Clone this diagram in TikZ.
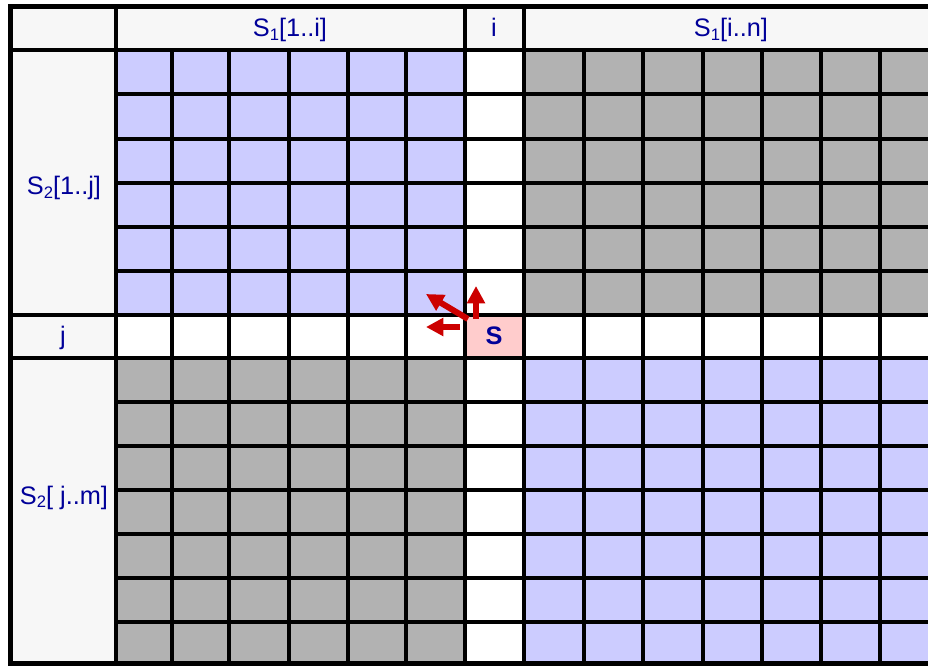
\documentclass[tikz,border=0pt]{standalone}
\usepackage{fontspec}
\setmainfont{Liberation Sans}
\usetikzlibrary{arrows.meta}
\definecolor{lblue}{RGB}{204,204,255}
\definecolor{dgrey}{RGB}{178,178,178}
\definecolor{spink}{RGB}{255,204,204}
\definecolor{txtblue}{RGB}{0,0,153}
\definecolor{hdrbg}{RGB}{247,247,247}
\definecolor{arrred}{RGB}{204,0,0}
\newcommand\lowidx[1]{\raisebox{-0.15em}{\fontsize{12.5}{13}\selectfont #1}}
\begin{document}
\begin{tikzpicture}[x=0.75pt,y=-0.75pt,
  lbl/.style={text=txtblue,font=\fontsize{19}{21}\selectfont,inner sep=0pt,anchor=base},
  gridline/.style={line width=2.4pt,draw=black},
  border/.style={line width=4.2pt,draw=black},
  redarrow/.style={draw=arrred,line width=4.5pt,-{Triangle[length=13pt,width=13pt]}}]
\useasboundingbox (0,0) rectangle (928,666);
\clip (0,0) rectangle (928,666);
% backgrounds
\fill[white] (0,0) rectangle (928,666);
\fill[hdrbg] (11,7) rectangle (940,664);
\fill[lblue] (116,50) rectangle (465,315);
\fill[dgrey] (524,50) rectangle (940,315);
\fill[dgrey] (116,358) rectangle (465,666);
\fill[lblue] (524,358) rectangle (940,666);
\fill[white] (465,50) rectangle (524,666);
\fill[white] (116,315) rectangle (940,358);
\fill[spink] (465,315) rectangle (524,358);
% vertical grid lines in body
\foreach \x in {172,229,289,348,406,584,643,703,762,821,880,939}
  \draw[gridline] (\x,50) -- (\x,666);
\foreach \x in {116,465,524}
  \draw[gridline] (\x,7) -- (\x,666);
% horizontal grid lines
\foreach \y in {94,139,183,227,271,402,446,490,534,578,622}
  \draw[gridline] (116,\y) -- (940,\y);
\foreach \y in {50,315,358}
  \draw[gridline] (11,\y) -- (940,\y);
% outer border
\draw[border] (940,6.5) -- (10.5,6.5) -- (10.5,664) -- (940,664);
% labels
\node[lbl] (h1) at (290,37) {S\lowidx{1}[1..i]};
\node[lbl] (hi) at (494,37) {i};
\node[lbl] (h2) at (731,37) {S\lowidx{1}[i..n]};
\node[lbl] (v1) at (64,195) {S\lowidx{2}[1..j]};
\node[lbl] (vj) at (63,345) {j};
\node[lbl] (v2) at (64,504) {S\lowidx{2}[ j..m]};
\node[lbl,font=\fontsize{19}{21}\selectfont\bfseries] (s) at (494,345) {S};
% arrows
\coordinate (upA) at (476,319);
\coordinate (upB) at (476,286);
\coordinate (dgA) at (468,319);
\coordinate (dgB) at (426,294);
\coordinate (lfA) at (460,327);
\coordinate (lfB) at (426,327);
\draw[redarrow] (upA) -- (upB);
\draw[redarrow] (dgA) -- (dgB);
\draw[redarrow] (lfA) -- (lfB);
\end{tikzpicture}
\end{document}
